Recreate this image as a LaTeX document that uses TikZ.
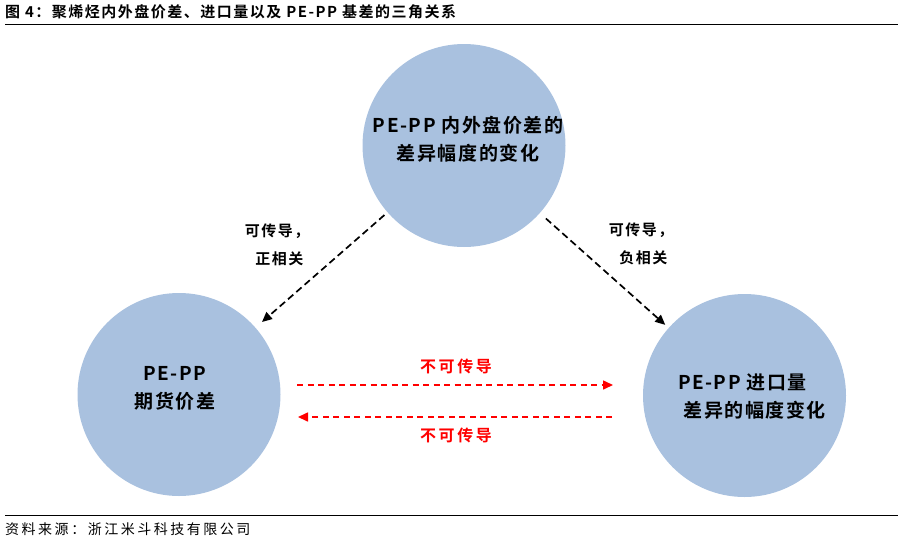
\documentclass[tikz,border=0pt]{standalone}
\usepackage{fontspec}
\setmainfont{Liberation Sans}
\newfontfamily\cjkA{Noto Sans CJK SC Bold}[LetterSpace=10]
\newfontfamily\cjkB{Noto Sans CJK SC Bold}[LetterSpace=8]
\newfontfamily\cjkC{Noto Sans CJK SC Bold}[LetterSpace=16]
\newfontfamily\cjkD{Noto Sans CJK SC}[LetterSpace=18]
\usetikzlibrary{arrows.meta}
\definecolor{circfill}{RGB}{169,193,223}
\definecolor{arrred}{RGB}{255,0,0}
\tikzset{
  bubble/.style={circle, fill=circfill, minimum size=203pt, inner sep=0pt},
  bubtext/.style={inner sep=0pt, font=\cjkB\fontsize{19}{28}\selectfont},
  blackarr/.style={-{Triangle[length=10pt,width=9pt]}, dash pattern=on 7pt off 4pt, line width=1.7pt, black},
  redarr/.style={-{Triangle[length=10pt,width=9pt]}, dash pattern=on 6pt off 4.5pt, line width=1.6pt, arrred},
  lbl/.style={font=\cjkA\fontsize{15}{28}\selectfont, align=center},
  redlbl/.style={font=\cjkC\fontsize{16}{18}\selectfont, text=arrred}
}
\begin{document}
\begin{tikzpicture}[x=1pt,y=-1pt]
\useasboundingbox (0,0) rectangle (903,544);
% title
\node[anchor=west, font=\cjkA\fontsize{15}{18}\selectfont, inner sep=0pt] (title) at (5,12) {图 4：聚烯烃内外盘价差、进口量以及 PE-PP 基差的三角关系};
\draw[line width=1pt] (5,24) -- (898,24);
% footer
\draw[line width=1pt] (5,515) -- (898,515);
\node[anchor=west, font=\cjkD\fontsize{14}{16}\selectfont, inner sep=0pt] (src) at (5,529) {资料来源：浙江米斗科技有限公司};
% circles
\node[bubble] (top) at (464,145.5) {};
\node[bubble] (left) at (179,394.5) {};
\node[bubble] (right) at (744.5,395.5) {};
\node[bubtext, align=center] (toptext) at (468,139) {PE-PP 内外盘价差的\\差异幅度的变化};
\node[bubtext, align=center] (lefttext) at (175,388.5) {PE-PP\\期货价差};
\node[bubtext, align=left] (righttext) at (752,396.5) {PE-PP 进口量\\\ 差异的幅度变化};
% black arrows
\draw[blackarr, shorten <=4pt, shorten >=8.5pt] (top) -- (left);
\draw[blackarr, shorten <=8pt, shorten >=4.5pt] (top) -- (right);
\node[lbl] (llbl) at (277,245) {可传导，\\\ 正相关};
\node[lbl] (rlbl) at (641,244) {可传导，\\\ 负相关};
% red arrows
\coordinate (a1) at (297,385);
\coordinate (a2) at (613,385);
\coordinate (b1) at (612,417);
\coordinate (b2) at (298,417);
\draw[redarr] (a1) -- (a2);
\draw[redarr] (b1) -- (b2);
\node[redlbl] (rt) at (456,366) {不可传导};
\node[redlbl] (rb) at (456,435) {不可传导};
\end{tikzpicture}
\end{document}
